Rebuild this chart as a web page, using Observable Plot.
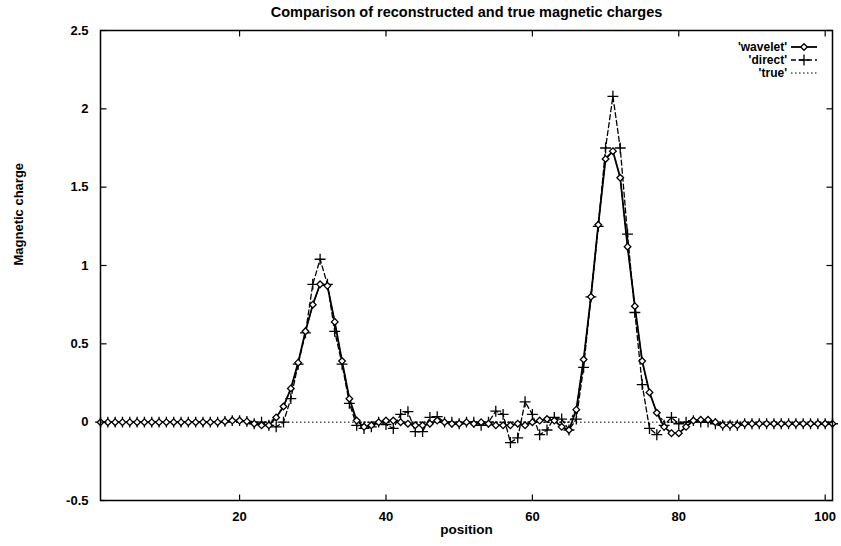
<!DOCTYPE html>
<html><head><meta charset="utf-8">
<script src="https://cdn.jsdelivr.net/npm/d3@7"></script>
<script src="https://cdn.jsdelivr.net/npm/@observablehq/plot@0.6"></script>
<style>
html,body{margin:0;padding:0;background:#fff;}
#wrap{position:relative;width:841px;height:546px;}
#legend{position:absolute;left:0;top:0;pointer-events:none;}
</style></head><body><div id="wrap"></div>
<script>
const titleText = "Comparison of reconstructed and true magnetic charges";
const xLabel = "position";
const yLabel = "Magnetic charge";
const xTicks = [20, 40, 60, 80, 100];
const yTicks = [-0.5, 0, 0.5, 1, 1.5, 2, 2.5];
const seriesNames = ["'wavelet'", "'direct'", "'true'"];

// positions 1..101
const wavelet = [
 0,0,0,0,0,0,0,0,0,0,
 0,0,0,0,0,0,0,0.005,0.01,0.01,
 0.005,-0.01,-0.02,-0.02,0.03,0.1,0.215,0.38,0.58,0.75,
 0.88,0.87,0.64,0.39,0.15,0.01,-0.03,-0.02,0,0.01,
 0.01,0,-0.01,-0.02,-0.02,-0.01,0.01,0,-0.01,-0.01,
 0,-0.01,0,-0.01,-0.02,-0.02,-0.02,-0.01,-0.02,0,
 0.01,0.02,0.01,-0.03,-0.05,0.08,0.4,0.8,1.26,1.68,
 1.73,1.56,1.12,0.74,0.39,0.19,0.06,-0.03,-0.07,-0.07,
 -0.03,0.01,0.015,0.015,0,-0.02,-0.02,-0.02,-0.01,-0.01,
 -0.01,-0.01,-0.01,-0.01,-0.01,-0.01,-0.01,-0.01,-0.01,-0.01,
 -0.01
];
const direct = [
 0,0,0,0,0,0,0,0,0,0,
 0,0,0,0,0,0,0,0.005,0.01,0.01,
 0.005,-0.01,0,-0.02,-0.03,0,0.15,0.37,0.57,0.88,
 1.04,0.88,0.58,0.37,0.12,-0.02,-0.04,-0.03,0,-0.015,
 -0.04,0.05,0.067,-0.06,-0.06,0.03,0.035,0,0,-0.01,
 0,0,-0.02,0,0.07,0.05,-0.13,-0.1,0.13,0.05,
 -0.08,-0.05,0.03,0.02,-0.05,0.02,0.35,0.8,1.25,1.75,
 2.08,1.75,1.2,0.7,0.24,-0.04,-0.08,-0.02,0.03,-0.01,
 0,0.01,0,0,-0.01,-0.02,-0.02,-0.02,-0.01,-0.01,
 -0.01,-0.01,-0.01,-0.01,-0.01,-0.01,-0.01,-0.01,-0.01,-0.01,
 -0.01
];
const trueCharge = [
 0,0,0,0,0,0,0,0,0,0,
 0,0,0,0,0,0,0,0,0,0,
 0,0,0,0,0.03,0.1,0.215,0.38,0.58,0.75,
 0.88,0.87,0.64,0.39,0.15,0,0,0,0,0,
 0,0,0,0,0,0,0,0,0,0,
 0,0,0,0,0,0,0,0,0,0,
 0,0,0,0,0,0.08,0.4,0.8,1.26,1.68,
 1.73,1.56,1.12,0.74,0.39,0.19,0.06,0,0,0,
 0,0,0,0,0,0,0,0,0,0,
 0,0,0,0,0,0,0,0,0,0,
 0
];
const positions = wavelet.map((_, i) => i + 1);
const rows = (vals) => vals.map((v, i) => ({x: positions[i], y: v}));
const wRows = rows(wavelet), dRows = rows(direct), tRows = rows(trueCharge);

const font = "'Liberation Sans', Arial, sans-serif";
const tickMarkH = (dir) => ({draw(ctx){ ctx.moveTo(0,0); ctx.lineTo(0, dir*6); }});
const tickMarkV = (dir) => ({draw(ctx){ ctx.moveTo(0,0); ctx.lineTo(dir*6, 0); }});

const chart = Plot.plot({
  width: 841, height: 546,
  marginLeft: 100, marginRight: 9, marginTop: 30, marginBottom: 46,
  style: {fontFamily: font, fontSize: "13px", color: "black", background: "white"},
  x: {domain: [1, 101], axis: null},
  y: {domain: [-0.5, 2.5], axis: null},
  marks: [
    Plot.ruleY([0], {stroke: "black", strokeWidth: 1, strokeDasharray: "1.5,2.5"}),
    Plot.line(tRows, {x: "x", y: "y", stroke: "black", strokeWidth: 1.2, strokeDasharray: "1.5,2.5"}),
    Plot.line(dRows, {x: "x", y: "y", stroke: "black", strokeWidth: 1.3, strokeDasharray: "5,3"}),
    Plot.dot(dRows, {x: "x", y: "y", symbol: "plus", r: 3.6, stroke: "black", strokeWidth: 1.3}),
    Plot.line(wRows, {x: "x", y: "y", stroke: "black", strokeWidth: 1.8}),
    Plot.dot(wRows, {x: "x", y: "y", symbol: "diamond2", r: 3.0, fill: "white", stroke: "black", strokeWidth: 1.3}),
    Plot.frame({stroke: "black", strokeWidth: 1.5}),
    // inward tick marks on all four sides
    Plot.dot(xTicks, {x: d => d, frameAnchor: "bottom", symbol: tickMarkH(-1), stroke: "black", strokeWidth: 1.2}),
    Plot.dot(xTicks, {x: d => d, frameAnchor: "top", symbol: tickMarkH(1), stroke: "black", strokeWidth: 1.2}),
    Plot.dot(yTicks, {y: d => d, frameAnchor: "left", symbol: tickMarkV(1), stroke: "black", strokeWidth: 1.2}),
    Plot.dot(yTicks, {y: d => d, frameAnchor: "right", symbol: tickMarkV(-1), stroke: "black", strokeWidth: 1.2}),
    // tick labels
    Plot.text(xTicks, {x: d => d, frameAnchor: "bottom", dy: 20, text: d => String(d), fontWeight: "bold", fontSize: 13}),
    Plot.text(yTicks, {y: d => d, frameAnchor: "left", dx: -12, textAnchor: "end", text: d => String(d), fontWeight: "bold", fontSize: 13}),
    // titles
    Plot.text([titleText], {frameAnchor: "top", dy: -24, text: d => d, fontSize: 14.5, fontWeight: "bold"}),
    Plot.text([xLabel], {frameAnchor: "bottom", dy: 33, text: d => d, fontSize: 13.5, fontWeight: "bold"}),
    Plot.text([yLabel], {frameAnchor: "left", dx: -82, rotate: -90, text: d => d, fontSize: 13, fontWeight: "bold"})
  ]
});
const wrap = document.getElementById("wrap");
wrap.appendChild(chart);

// legend (key) in top-right corner, gnuplot style
const ns = "http://www.w3.org/2000/svg";
const leg = document.createElementNS(ns, "svg");
leg.setAttribute("id", "legend");
leg.setAttribute("width", 841); leg.setAttribute("height", 546);
const styles = [
  {dash: null, w: 1.8, sym: "diamond"},
  {dash: "5,3", w: 1.3, sym: "plus"},
  {dash: "1.5,2.5", w: 1.2, sym: null}
];
seriesNames.forEach((name, i) => {
  const yy = 47 + i * 13;
  const t = document.createElementNS(ns, "text");
  t.setAttribute("x", 787); t.setAttribute("y", yy);
  t.setAttribute("dy", "0.35em");
  t.setAttribute("text-anchor", "end");
  t.setAttribute("font-family", font);
  t.setAttribute("font-size", "12");
  t.setAttribute("font-weight", "bold");
  t.textContent = name;
  leg.appendChild(t);
  const l = document.createElementNS(ns, "line");
  l.setAttribute("x1", 791); l.setAttribute("x2", 817);
  l.setAttribute("y1", yy); l.setAttribute("y2", yy);
  l.setAttribute("stroke", "black");
  l.setAttribute("stroke-width", styles[i].w);
  if (styles[i].dash) l.setAttribute("stroke-dasharray", styles[i].dash);
  leg.appendChild(l);
  if (styles[i].sym) {
    const p = document.createElementNS(ns, "path");
    const type = styles[i].sym === "plus" ? d3.symbolPlus : d3.symbolDiamond2;
    p.setAttribute("d", d3.symbol(type, styles[i].sym === "plus" ? 40 : 28)());
    p.setAttribute("transform", `translate(804,${yy})`);
    p.setAttribute("fill", styles[i].sym === "plus" ? "none" : "white");
    p.setAttribute("stroke", "black");
    p.setAttribute("stroke-width", 1.3);
    leg.appendChild(p);
  }
});
wrap.appendChild(leg);
</script></body></html>
